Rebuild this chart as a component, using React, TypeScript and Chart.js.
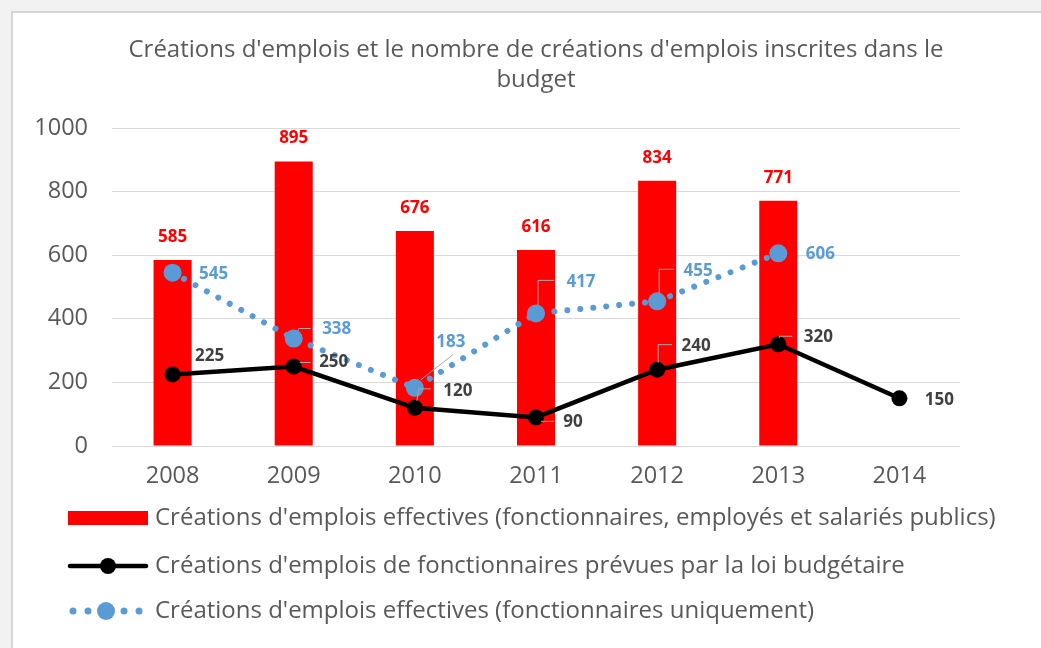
import React, { useEffect, useRef } from 'react';
import { Chart, registerables } from 'chart.js';

Chart.register(...registerables);

// ---------- data ----------
const years = ['2008', '2009', '2010', '2011', '2012', '2013', '2014'];
const effectivesTotal: (number | null)[] = [585, 895, 676, 616, 834, 771, null];
const prevuesBudget: (number | null)[] = [225, 250, 120, 90, 240, 320, 150];
const effectivesFonct: (number | null)[] = [545, 338, 183, 417, 455, 606, null];
const yMin = 0;
const yMax = 1000;
const yStep = 200;
const titleLines = [
  "Créations d'emplois et le nombre de créations d'emplois inscrites dans le",
  'budget',
];
const legendLabels = [
  "Créations d'emplois effectives (fonctionnaires, employés et salariés publics)",
  "Créations d'emplois de fonctionnaires prévues par la loi budgétaire",
  "Créations d'emplois effectives (fonctionnaires uniquement)",
];

// ---------- styles ----------
const FONT = "'Open Sans', 'Noto Sans', sans-serif";
const GREY_TEXT = '#595959';
const RED = '#FF0000';
const BLACK = '#000000';
const BLUE = '#5B9BD5';
const LABEL_DARK = '#404040';
const LEADER = '#A6A6A6';

// label offsets (pixels, relative to the point) and leader polylines
const blackLabelOffsets = [[37, -18], [40, -4], [43, -17], [37, 5], [39, -24], [40, -7], [40, 2]];
const blackLeaders: (number[][] | null)[] = [
  null,
  [[6, -4], [17, -4]],
  [[2, -7], [4, -19], [16, -19]],
  [[5, 4], [18, 4]],
  [[1, -7], [1, -25], [15, -25]],
  [[1, -6], [1, -8], [14, -8]],
  null,
];
const blueLabelOffsets = [[41, 1], [43, -9], [36, -46], [45, -31], [41, -30], [42, 1]];
const blueLeaders: (number[][] | null)[] = [
  null,
  [[4, -7], [5, -10], [17, -10]],
  [[6, -8], [38, -33]],
  [[2, -8], [2, -33], [18, -33]],
  [[2, -8], [2, -32], [17, -32]],
  null,
];

const valueLabelsPlugin = {
  id: 'valueLabels',
  afterDatasetsDraw(chart: any) {
    const ctx = chart.ctx as CanvasRenderingContext2D;
    ctx.save();
    ctx.font = `bold 17px ${FONT}`;
    ctx.textAlign = 'center';
    ctx.textBaseline = 'middle';

    // bar labels
    const m0 = chart.getDatasetMeta(0);
    m0.data.forEach((el: any, i: number) => {
      const v = effectivesTotal[i];
      if (v == null) return;
      ctx.fillStyle = RED;
      ctx.fillText(String(v), el.x, el.y - 23);
    });

    const drawSeries = (
      metaIndex: number,
      values: (number | null)[],
      offsets: number[][],
      leaders: (number[][] | null)[],
      color: string
    ) => {
      const meta = chart.getDatasetMeta(metaIndex);
      meta.data.forEach((el: any, i: number) => {
        const v = values[i];
        if (v == null) return;
        const ld = leaders[i];
        if (ld) {
          ctx.strokeStyle = LEADER;
          ctx.lineWidth = 1;
          ctx.beginPath();
          ld.forEach((p, k) => {
            if (k === 0) ctx.moveTo(el.x + p[0], el.y + p[1]);
            else ctx.lineTo(el.x + p[0], el.y + p[1]);
          });
          ctx.stroke();
        }
        const o = offsets[i];
        ctx.fillStyle = color;
        ctx.fillText(String(v), el.x + o[0], el.y + o[1]);
      });
    };
    drawSeries(1, prevuesBudget, blackLabelOffsets, blackLeaders, LABEL_DARK);
    drawSeries(2, effectivesFonct, blueLabelOffsets, blueLeaders, BLUE);
    ctx.restore();
  },
};

const titleLegendPlugin = {
  id: 'titleLegend',
  afterDraw(chart: any) {
    const ctx = chart.ctx as CanvasRenderingContext2D;
    const area = chart.chartArea;
    ctx.save();
    // title
    ctx.font = `24px ${FONT}`;
    ctx.fillStyle = GREY_TEXT;
    ctx.textAlign = 'center';
    ctx.textBaseline = 'middle';
    const cx = (area.left + area.right) / 2;
    titleLines.forEach((t, i) => ctx.fillText(t, cx, 50 + i * 30));

    // legend
    const ds = chart.data.datasets;
    const rows = [518, 566, 611];
    const mx0 = 68;
    const mx1 = 148;
    const tx = 155;
    // row 1: bar
    ctx.fillStyle = ds[0].backgroundColor;
    ctx.fillRect(mx0, rows[0] - 7, mx1 - mx0, 14);
    // row 2: solid line + marker
    ctx.strokeStyle = ds[1].borderColor;
    ctx.lineWidth = ds[1].borderWidth;
    ctx.lineCap = 'round';
    ctx.beginPath();
    ctx.moveTo(mx0 + 2, rows[1]);
    ctx.lineTo(mx1 - 2, rows[1]);
    ctx.stroke();
    ctx.fillStyle = ds[1].pointBackgroundColor;
    ctx.beginPath();
    ctx.arc((mx0 + mx1) / 2, rows[1], ds[1].pointRadius, 0, Math.PI * 2);
    ctx.fill();
    // row 3: dotted line + marker
    ctx.fillStyle = ds[2].borderColor;
    [73, 88, 124, 139].forEach((x) => {
      ctx.beginPath();
      ctx.arc(x, rows[2], 3.5, 0, Math.PI * 2);
      ctx.fill();
    });
    ctx.beginPath();
    ctx.arc(106, rows[2], ds[2].pointRadius, 0, Math.PI * 2);
    ctx.fill();
    // texts
    ctx.font = `24px ${FONT}`;
    ctx.fillStyle = GREY_TEXT;
    ctx.textAlign = 'left';
    legendLabels.forEach((t, i) => ctx.fillText(t, tx, rows[i]));
    ctx.restore();
  },
};

export default function App() {
  const canvasRef = useRef<HTMLCanvasElement | null>(null);

  useEffect(() => {
    const canvas = canvasRef.current;
    if (!canvas) return;
    const chart = new Chart(canvas, {
      type: 'bar',
      data: {
        labels: years,
        datasets: [
          {
            type: 'bar',
            label: legendLabels[0],
            data: effectivesTotal,
            backgroundColor: RED,
            borderWidth: 0,
            barPercentage: 0.314,
            categoryPercentage: 1,
            order: 3,
          },
          {
            type: 'line',
            label: legendLabels[1],
            data: prevuesBudget,
            borderColor: BLACK,
            backgroundColor: BLACK,
            borderWidth: 4.5,
            pointRadius: 8,
            pointBackgroundColor: BLACK,
            pointBorderColor: BLACK,
            pointBorderWidth: 0,
            tension: 0,
            order: 2,
          },
          {
            type: 'line',
            label: legendLabels[2],
            data: effectivesFonct,
            borderColor: BLUE,
            backgroundColor: BLUE,
            borderWidth: 6,
            borderDash: [0.01, 13],
            borderCapStyle: 'round',
            pointRadius: 9,
            pointBackgroundColor: BLUE,
            pointBorderColor: BLUE,
            pointBorderWidth: 0,
            tension: 0,
            spanGaps: false,
            order: 1,
          },
        ] as any,
      },
      options: {
        animation: false,
        responsive: false,
        maintainAspectRatio: false,
        layout: { padding: { top: 128, right: 81, left: 0, bottom: 0 } },
        plugins: {
          legend: { display: false },
          title: { display: false },
          tooltip: { enabled: false },
        },
        scales: {
          x: {
            type: 'category',
            offset: true,
            grid: { display: false, drawTicks: false },
            border: { display: false },
            ticks: { color: GREY_TEXT, font: { family: FONT, size: 23.5 }, padding: 16 },
            afterFit: (scale: any) => {
              scale.height = 202;
            },
          },
          y: {
            min: yMin,
            max: yMax,
            grid: { color: '#D9D9D9', lineWidth: 1, drawTicks: false },
            border: { display: false },
            ticks: {
              stepSize: yStep,
              color: GREY_TEXT,
              font: { family: FONT, size: 23.5 },
              padding: 24,
              callback: (v: any) => String(v),
            },
            afterFit: (scale: any) => {
              scale.width = 112;
            },
          },
        },
      } as any,
      plugins: [valueLabelsPlugin, titleLegendPlugin],
    });
    return () => chart.destroy();
  }, []);

  return (
    <div
      style={{
        position: 'fixed',
        left: 0,
        top: 0,
        width: 1041,
        height: 648,
        background: '#F2F2F2',
        overflow: 'hidden',
      }}
    >
      <div
        style={{
          position: 'absolute',
          left: 11,
          top: 11,
          right: 0,
          bottom: 0,
          background: '#FFFFFF',
          borderLeft: '2px solid #D6D6D6',
          borderTop: '2px solid #D6D6D6',
        }}
      />
      <canvas
        ref={canvasRef}
        width={1041}
        height={648}
        style={{ position: 'absolute', left: 0, top: 0, width: 1041, height: 648 }}
      />
    </div>
  );
}
